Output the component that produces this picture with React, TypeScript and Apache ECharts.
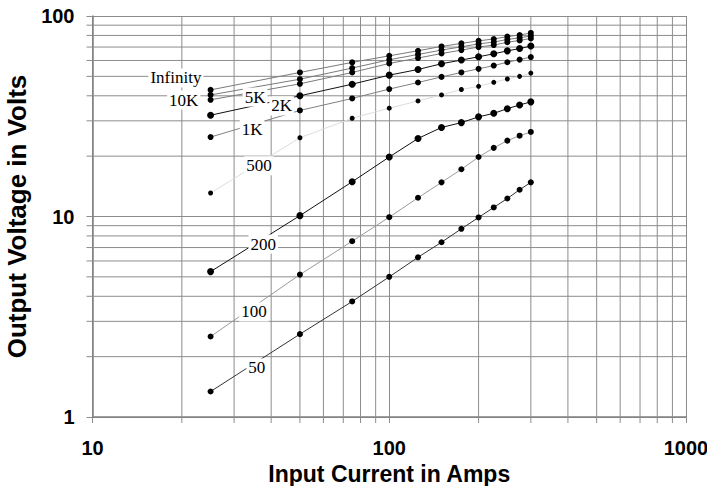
import React, { useEffect, useRef } from "react";
import * as echarts from "echarts";

// Input current (A) sampled for every load curve
const current = [25, 50, 75, 100, 125, 150, 175, 200, 225, 250, 275, 300];

// Output voltage (V) for each load resistance
const v50 = [1.34, 2.59, 3.77, 5.0, 6.26, 7.44, 8.68, 9.89, 11.1, 12.3, 13.6, 14.8];
const v100 = [2.52, 5.13, 7.53, 9.92, 12.4, 14.8, 17.2, 19.8, 22.0, 23.9, 25.3, 26.4];
const v200 = [5.31, 10.1, 14.9, 19.8, 24.5, 27.8, 29.4, 31.4, 32.7, 34.5, 36.0, 37.3];
const v500 = [13.1, 24.7, 30.9, 34.7, 37.7, 40.4, 43.0, 44.6, 46.7, 48.5, 50.0, 51.9];
const v1k = [24.9, 33.8, 38.8, 43.2, 46.6, 49.7, 52.3, 54.5, 56.6, 58.8, 60.6, 62.4];
const v2k = [32.0, 40.0, 45.7, 50.7, 54.1, 57.8, 60.3, 62.6, 64.8, 67.0, 68.8, 70.8];
const v5k = [38.2, 45.9, 52.3, 58.0, 61.7, 65.0, 67.6, 70.0, 71.6, 74.0, 75.5, 77.3];
const v10k = [40.4, 48.4, 55.0, 60.5, 64.3, 67.6, 70.2, 72.6, 74.1, 76.4, 77.8, 79.6];
const vInf = [42.8, 52.3, 58.7, 63.3, 67.1, 70.5, 73.0, 75.2, 76.8, 79.0, 80.3, 82.3];

// Curve labels: text and anchor in data coordinates (amps, volts)
const labelTexts = ["Infinity", "10K", "5K", "2K", "1K", "500", "200", "100", "50"];
const labelAmps = [19.1, 20.3, 35.3, 43.4, 34.5, 36.4, 37.6, 35.0, 35.8];
const labelVolts = [49.1, 38.1, 39.4, 35.6, 27.3, 17.9, 7.29, 3.34, 1.756];

// Axis extents and minor grid values
const xMin = 10;
const xMax = 1000;
const yMin = 1;
const yMax = 100;
const xMinor = [20, 30, 40, 50, 60, 70, 80, 90, 200, 300, 400, 500, 600, 700, 800, 900];
const yMinor = [2, 3, 4, 5, 6, 7, 8, 9, 20, 30, 40, 50, 60, 70, 80, 90];

const GRID = "#8c8c8c";

export default function App() {
  const ref = useRef<HTMLDivElement>(null);

  useEffect(() => {
    if (!ref.current) return;
    const chart = echarts.init(ref.current, null, { renderer: "svg" });

    const curve = (name: string, vals: number[], lineColor: string, size: number) => ({
      name,
      type: "line",
      data: current.map((c, i) => [c, vals[i]]),
      symbol: "circle",
      symbolSize: size,
      showSymbol: true,
      itemStyle: { color: "#000" },
      lineStyle: { color: lineColor, width: 1 },
      z: 3,
      silent: true,
    });

    const tickFont = { fontFamily: "Liberation Sans", fontWeight: "bold", fontSize: 20, color: "#000" };

    const option: any = {
      animation: false,
      backgroundColor: "#fff",
      grid: { left: 92.5, right: 21, top: 16, bottom: 69, outerBoundsMode: "none", containLabel: false },
      xAxis: {
        type: "log",
        logBase: 10,
        min: xMin,
        max: xMax,
        name: "Input Current in Amps",
        nameLocation: "middle",
        nameGap: 45,
        nameTextStyle: { fontFamily: "Liberation Sans", fontWeight: "bold", fontSize: 23, color: "#000" },
        axisLine: { show: true, lineStyle: { color: "#808080", width: 1.5 } },
        axisTick: { show: true, inside: false, length: 6, lineStyle: { color: GRID } },
        axisLabel: { margin: 21, formatter: (v: number) => String(Math.round(v)), ...tickFont },
        splitLine: { show: true, lineStyle: { color: GRID, width: 1 } },
      },
      yAxis: {
        type: "log",
        logBase: 10,
        min: yMin,
        max: yMax,
        name: "Output Voltage in Volts",
        nameLocation: "middle",
        nameGap: 60,
        nameTextStyle: { fontFamily: "Liberation Sans", fontWeight: "bold", fontSize: 26, color: "#000" },
        axisLine: { show: true, lineStyle: { color: "#808080", width: 1.5 } },
        axisTick: { show: true, inside: false, length: 6, lineStyle: { color: GRID } },
        axisLabel: { margin: 18, formatter: (v: number) => String(Math.round(v)), ...tickFont },
        splitLine: { show: true, lineStyle: { color: GRID, width: 1 } },
      },
      series: [
        {
          type: "custom",
          name: "xgrid",
          silent: true,
          clip: false,
          z: 1,
          data: xMinor.map((v) => [v, yMin]),
          encode: { x: 0, y: 1 },
          renderItem: (params: any, api: any) => {
            const v = api.value(0);
            const top = api.coord([v, yMax]);
            const bot = api.coord([v, yMin]);
            return {
              type: "group",
              children: [
                { type: "line", shape: { x1: top[0], y1: top[1], x2: bot[0], y2: bot[1] }, style: { stroke: GRID, lineWidth: 1 } },
                { type: "line", shape: { x1: bot[0], y1: bot[1], x2: bot[0], y2: bot[1] + 6 }, style: { stroke: GRID, lineWidth: 1 } },
              ],
            };
          },
        },
        {
          type: "custom",
          name: "ygrid",
          silent: true,
          clip: false,
          z: 1,
          data: yMinor.map((v) => [xMin, v]),
          encode: { x: 0, y: 1 },
          renderItem: (params: any, api: any) => {
            const v = api.value(1);
            const l = api.coord([xMin, v]);
            const r = api.coord([xMax, v]);
            return {
              type: "group",
              children: [
                { type: "line", shape: { x1: l[0], y1: l[1], x2: r[0], y2: r[1] }, style: { stroke: GRID, lineWidth: 1 } },
                { type: "line", shape: { x1: l[0] - 6, y1: l[1], x2: l[0], y2: l[1] }, style: { stroke: GRID, lineWidth: 1 } },
              ],
            };
          },
        },
        curve("500", v500, "#dcdcdc", 5),
        curve("100", v100, "#9a9a9a", 6),
        curve("1K", v1k, "#808080", 6),
        curve("5K", v5k, "#7a7a7a", 6),
        curve("10K", v10k, "#7a7a7a", 6),
        curve("Infinity", vInf, "#7a7a7a", 6),
        curve("50", v50, "#333", 6),
        curve("200", v200, "#111", 7),
        curve("2K", v2k, "#111", 7),
        {
          type: "scatter",
          name: "labels",
          silent: true,
          z: 6,
          symbol: "circle",
          symbolSize: 0.1,
          itemStyle: { color: "#fff", opacity: 1 },
          data: labelTexts.map((t, i) => [labelAmps[i], labelVolts[i], t]),
          label: {
            show: true,
            position: "inside",
            formatter: (p: any) => p.data[2],
            fontFamily: "Liberation Serif",
            fontSize: 17,
            color: "#000",
            opacity: 1,
            backgroundColor: "#fff",
            padding: [1, 2],
          },
          labelLayout: { hideOverlap: false },
        },
      ],
    };

    chart.setOption(option);
    return () => chart.dispose();
  }, []);

  return (
    <div
      ref={ref}
      style={{ position: "fixed", left: 0, top: 0, width: 707, height: 486, background: "#fff" }}
    />
  );
}
